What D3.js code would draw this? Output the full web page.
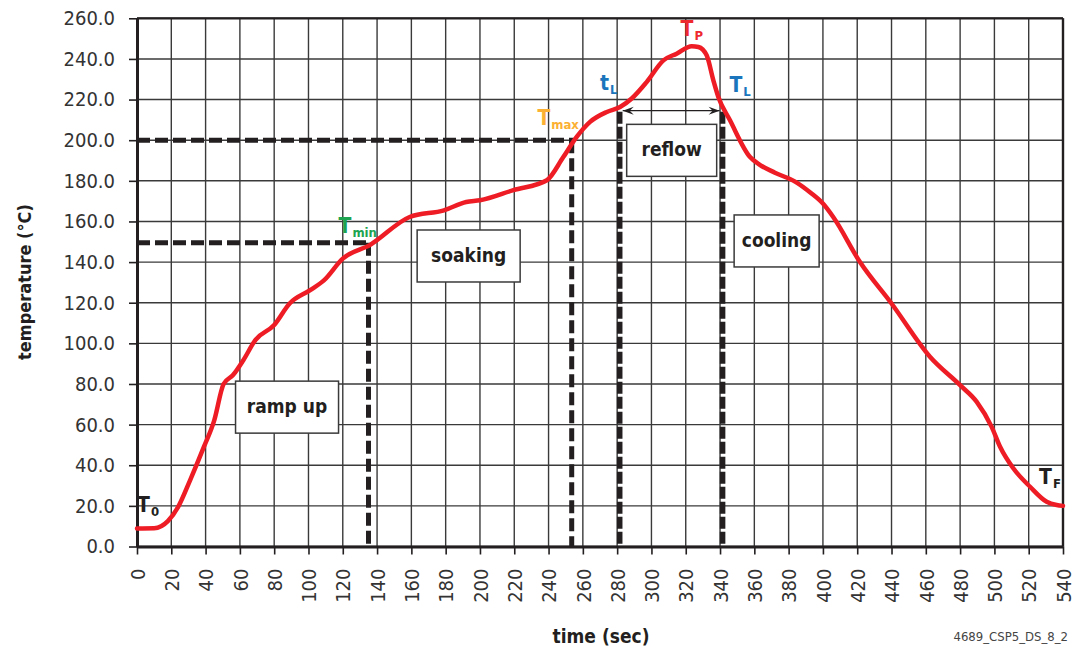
<!DOCTYPE html>
<html>
<head>
<meta charset="utf-8">
<script src="https://cdn.jsdelivr.net/npm/d3@7"></script>
<style>
  html, body { margin: 0; padding: 0; background: #fff; }
  svg { display: block; }
</style>
</head>
<body>
<svg id="chart" width="1082" height="650"></svg>
<script>
// ---- data ----
const timeSec = [0, 10, 18, 24, 31, 39, 45, 50.5, 56, 62, 69, 80, 89, 101, 109, 120, 136, 159, 179, 192, 200, 219.5, 239, 248.6, 256.4, 264.2, 274, 281.7, 288.5, 297.2, 307, 314.7, 323.5, 327.4, 332.2, 336.1, 339, 345.8, 357.5, 363, 372, 384, 393, 400, 406, 421.6, 440, 462.4, 480, 489.7, 498.4, 503.3, 511, 520.8, 530.5, 536.3, 540];
const tempC   = [8.9, 9, 12.5, 19.5, 32.7, 49, 62, 80, 84.4, 91.7, 101.6, 109, 119.6, 126.2, 131, 141.7, 148.5, 162.2, 165.5, 169.6, 170.4, 175.4, 180.3, 191.7, 201.6, 209, 213.9, 216.3, 220.5, 228.6, 239.3, 242.6, 246.3, 245.9, 241.8, 229.5, 221.3, 209.8, 191.7, 188, 184, 179.5, 174, 168.8, 162.2, 140, 119.6, 93.4, 79.4, 71.2, 58.9, 49.1, 38.5, 29.4, 22, 20.4, 20];

const xTickValues = [0, 20, 40, 60, 80, 100, 120, 140, 160, 180, 200, 220, 240, 260, 280, 300, 320, 340, 360, 380, 400, 420, 440, 460, 480, 500, 520, 540];
const yTickValues = [0, 20, 40, 60, 80, 100, 120, 140, 160, 180, 200, 220, 240, 260];
const yTickLabels = ["0.0", "20.0", "40.0", "60.0", "80.0", "100.0", "120.0", "140.0", "160.0", "180.0", "200.0", "220.0", "240.0", "260.0"];

// marker levels (time, temperature)
const tMinTime = 135, tMinTemp = 149.5;
const tMaxTime = 253.5, tMaxTemp = 200;
const tLStart = 281.5, tLEnd = 341.5, tLTemp = 215;

// phase boxes: label, centre time, centre temperature
const phaseNames = ["ramp up", "soaking", "reflow", "cooling"];
const phaseTime = [87.5, 193.4, 311.8, 373];
const phaseTemp = [68.6, 143, 195, 150.4];
const phaseWidth = [103, 103, 90, 85];

// point labels: main, subscript, time, temp, colour
const markerMain = ["T", "T", "T", "t", "T", "T", "T"];
const markerSub = ["0", "min", "max", "L", "L", "P", "F"];
const markerTime = [0, 117.5, 233.5, 270, 345.5, 317, 526];
const markerTemp = [17, 154.5, 207.5, 224.5, 223.5, 251.5, 31];
const markerColor = ["#231f20", "#1ea450", "#fbb034", "#1b75bc", "#1b75bc", "#ee2a2f", "#231f20"];

const xTitle = "time (sec)";
const yTitle = "temperature (°C)";
const footer = "4689_CSP5_DS_8_2";

// ---- drawing ----
const svg = d3.select("#chart");
const x = d3.scaleLinear().domain([0, 540]).range([137, 1063]);
const y = d3.scaleLinear().domain([0, 260]).range([546.5, 18.3]);
const tickFont = "'DejaVu Sans Condensed', 'DejaVu Sans', sans-serif";

// grid
const grid = svg.append("g");
grid.selectAll("line.v").data(xTickValues).join("line")
  .attr("x1", d => x(d)).attr("x2", d => x(d))
  .attr("y1", y(0)).attr("y2", y(260))
  .attr("stroke", "#3a3a3a").attr("stroke-width", 1.4);
grid.selectAll("line.h").data(yTickValues).join("line")
  .attr("x1", x(0)).attr("x2", x(540))
  .attr("y1", d => y(d)).attr("y2", d => y(d))
  .attr("stroke", "#3a3a3a").attr("stroke-width", 1.4);
// top and right borders
svg.append("line").attr("x1", x(0)).attr("x2", x(540)).attr("y1", y(260)).attr("y2", y(260))
  .attr("stroke", "#231f20").attr("stroke-width", 2.2);
svg.append("line").attr("x1", x(540)).attr("x2", x(540)).attr("y1", y(0)).attr("y2", y(260))
  .attr("stroke", "#231f20").attr("stroke-width", 2.4);

// axes
const yAxis = svg.append("g").attr("transform", `translate(${x(0)},0)`)
  .call(d3.axisLeft(y).tickValues(yTickValues).tickFormat((d, i) => yTickLabels[i]).tickSize(8).tickSizeOuter(0).tickPadding(14));
const xAxis = svg.append("g").attr("transform", `translate(0,${y(0)})`)
  .call(d3.axisBottom(x).tickValues(xTickValues).tickFormat(d => String(d)).tickSize(8).tickSizeOuter(0));
[yAxis, xAxis].forEach(a => {
  a.select(".domain").attr("stroke", "#231f20").attr("stroke-width", 3);
  a.selectAll(".tick line").attr("stroke", "#231f20").attr("stroke-width", 1.6);
  a.selectAll(".tick text").attr("fill", "#333").style("font-family", tickFont).style("font-size", "20px");
});
xAxis.selectAll(".tick text")
  .attr("transform", "rotate(-90)")
  .attr("text-anchor", "end")
  .attr("x", -22).attr("y", 0).attr("dy", "0.36em");

// dashed markers
const dash = svg.append("g").attr("stroke", "#231f20").attr("fill", "none");
dash.append("line").attr("x1", x(0)).attr("x2", x(tMaxTime) + 2).attr("y1", y(tMaxTemp)).attr("y2", y(tMaxTemp))
  .attr("stroke-width", 5).attr("stroke-dasharray", "13,5");
dash.append("line").attr("x1", x(tMaxTime)).attr("x2", x(tMaxTime)).attr("y1", y(tMaxTemp)).attr("y2", y(0))
  .attr("stroke-width", 5).attr("stroke-dasharray", "13,5");
dash.append("line").attr("x1", x(0)).attr("x2", x(tMinTime) + 2).attr("y1", y(tMinTemp)).attr("y2", y(tMinTemp))
  .attr("stroke-width", 5).attr("stroke-dasharray", "13,5");
dash.append("line").attr("x1", x(tMinTime)).attr("x2", x(tMinTime)).attr("y1", y(tMinTemp)).attr("y2", y(0))
  .attr("stroke-width", 5).attr("stroke-dasharray", "13,5");
dash.append("line").attr("x1", x(tLStart)).attr("x2", x(tLStart)).attr("y1", y(tLTemp) + 2).attr("y2", y(0))
  .attr("stroke-width", 5.5).attr("stroke-dasharray", "12,3");
dash.append("line").attr("x1", x(tLEnd)).attr("x2", x(tLEnd)).attr("y1", y(tLTemp) + 2).attr("y2", y(0))
  .attr("stroke-width", 5.5).attr("stroke-dasharray", "12,3");

// double arrow
const ay = y(tLTemp) + 1;
const ax1 = x(tLStart) + 3, ax2 = x(tLEnd) - 3;
svg.append("line").attr("x1", ax1).attr("x2", ax2).attr("y1", ay).attr("y2", ay)
  .attr("stroke", "#231f20").attr("stroke-width", 1.2);
svg.append("path").attr("d", `M${ax1 + 11},${ay - 4} L${ax1},${ay} L${ax1 + 11},${ay + 4} L${ax1 + 7},${ay} Z`).attr("fill", "#231f20");
svg.append("path").attr("d", `M${ax2 - 11},${ay - 4} L${ax2},${ay} L${ax2 - 11},${ay + 4} L${ax2 - 7},${ay} Z`).attr("fill", "#231f20");

// phase boxes
phaseNames.forEach((name, i) => {
  const cx = x(phaseTime[i]), cy = y(phaseTemp[i]);
  const w = phaseWidth[i], h = 52;
  svg.append("rect").attr("x", cx - w / 2).attr("y", cy - h / 2).attr("width", w).attr("height", h)
    .attr("fill", "#fff").attr("stroke", "#3a3a3a").attr("stroke-width", 1.5);
  svg.append("text").attr("x", cx).attr("y", cy).attr("dy", "0.3em").attr("text-anchor", "middle")
    .attr("fill", "#231f20").style("font-family", tickFont).style("font-weight", "bold").style("font-size", "19px")
    .text(name);
});

// curve
const pts = timeSec.map((t, i) => [t, tempC[i]]);
svg.append("path").datum(pts)
  .attr("d", d3.line().x(d => x(d[0])).y(d => y(d[1])).curve(d3.curveMonotoneX))
  .attr("fill", "none").attr("stroke", "#ee1c25").attr("stroke-width", 4.5)
  .attr("stroke-linejoin", "round").attr("stroke-linecap", "round");

// marker labels
markerMain.forEach((m, i) => {
  const t = svg.append("text").attr("x", x(markerTime[i])).attr("y", y(markerTemp[i]))
    .attr("fill", markerColor[i]).style("font-family", tickFont).style("font-weight", "bold");
  t.append("tspan").style("font-size", "21px").text(m);
  t.append("tspan").style("font-size", "13px").attr("dy", 4).attr("dx", 1).text(markerSub[i]);
});

// titles
svg.append("text").attr("x", 601).attr("y", 643).attr("text-anchor", "middle")
  .attr("fill", "#231f20").style("font-family", tickFont).style("font-weight", "bold").style("font-size", "19px")
  .text(xTitle);
svg.append("text").attr("transform", "translate(31,282) rotate(-90)").attr("text-anchor", "middle")
  .attr("fill", "#231f20").style("font-family", tickFont).style("font-weight", "bold").style("font-size", "18px")
  .text(yTitle);
svg.append("text").attr("x", 1068).attr("y", 641).attr("text-anchor", "end")
  .attr("fill", "#444").style("font-family", tickFont).style("font-size", "13px")
  .text(footer);
</script>
</body>
</html>
